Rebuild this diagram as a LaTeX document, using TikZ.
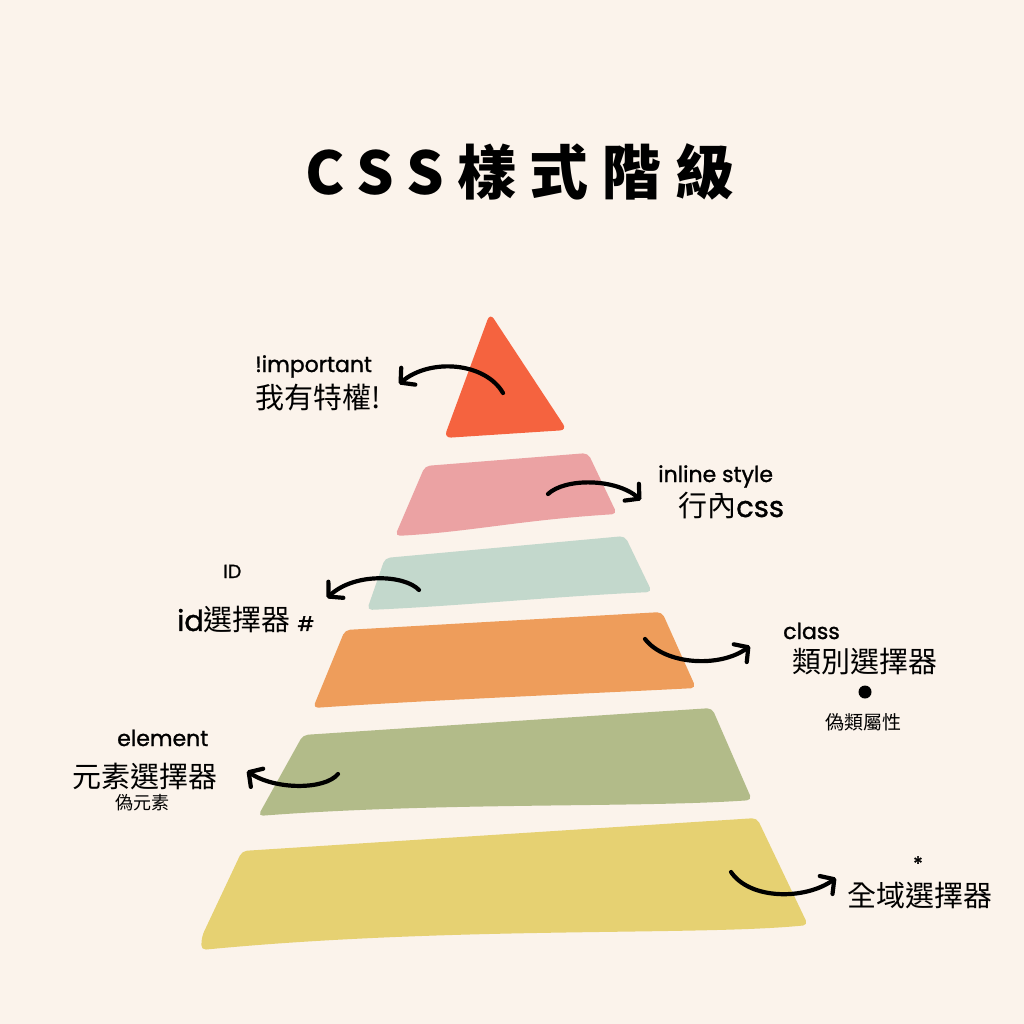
\documentclass[tikz,border=0pt]{standalone}
\usepackage{fontspec}
\usetikzlibrary{arrows.meta}
\newfontfamily\cjk{Noto Sans CJK TC}
\newfontfamily\cjktitle{Noto Sans CJK TC}[LetterSpace=23]
\newfontfamily\hand{Poppins}[FakeBold=1.2]
\definecolor{bgc}{HTML}{FBF3EB}
\definecolor{c1}{HTML}{F5633F}
\definecolor{c2}{HTML}{EBA2A3}
\definecolor{c3}{HTML}{C3D8CC}
\definecolor{c4}{HTML}{EE9D5B}
\definecolor{c5}{HTML}{B2BB89}
\definecolor{c6}{HTML}{E6D172}
\tikzset{
  band/.style={rounded corners=5pt},
  arr/.style={line width=4.2pt, line cap=round, -{Straight Barb[length=10pt,width=22pt,round]}},
  lbl/.style={inner sep=0pt, font=\hand\fontsize{22}{24}\selectfont},
  cj/.style={inner sep=0pt, font=\cjk\fontsize{29}{32}\selectfont},
  cjs/.style={inner sep=0pt, font=\cjk\fontsize{19}{21}\selectfont},
}
\begin{document}
\begin{tikzpicture}[x=1pt,y=-1pt]
\fill[bgc] (0,0) rectangle (1024,1024);
\useasboundingbox (0,0) rectangle (1024,1024);

% title
\node[inner sep=0pt, anchor=west, font=\cjktitle\bfseries\fontsize{59}{62}\selectfont] (title) at (305,172) {CSS樣式階級};

% pyramid
\fill[c1, rounded corners=7pt] (490,313) -- (567,430) -- (444,438) -- cycle;
\fill[c2, band] (425,466) -- (588,453) -- (617,514) .. controls (520,520) and (470,532) .. (395,536) -- cycle;
\fill[c3, band] (385,558) -- (625,536) -- (652,592) .. controls (560,596) and (460,606) .. (367,610) -- cycle;
\fill[c4, band] (345,630) -- (662,612) -- (696,688) .. controls (580,694) and (430,700) .. (313,708) -- cycle;
\fill[c5, band] (303,735) -- (712,708) -- (752,800) .. controls (640,808) and (440,802) .. (258,816) -- cycle;
\fill[c6, band] (242,851) -- (757,818) -- (808,925) .. controls (700,936) and (450,926) .. (201,950) -- (202,936) -- cycle;

% arrows
\coordinate (s1) at (503,393); \coordinate (e1) at (399,384);
\coordinate (s2) at (548,494); \coordinate (e2) at (641,500);
\coordinate (s3) at (419,590); \coordinate (e3) at (327,598);
\coordinate (s4) at (645,639); \coordinate (e4) at (750,646);
\coordinate (s5) at (338,774); \coordinate (e5) at (247,771);
\coordinate (s6) at (731,872); \coordinate (e6) at (836,878);
\draw[arr] (s1) .. controls (485,362) and (430,358) .. (e1);
\draw[arr] (s2) .. controls (565,478) and (615,478) .. (e2);
\draw[arr] (s3) .. controls (405,575) and (355,572) .. (e3);
\draw[arr] (s4) .. controls (665,665) and (720,668) .. (e4);
\draw[arr] (s5) .. controls (325,790) and (275,790) .. (e5);
\draw[arr] (s6) .. controls (750,900) and (805,900) .. (e6);

% labels
\node[lbl, anchor=base west] (l1a) at (255,372) {!important};
\node[cj, anchor=west] (l1b) at (255,398) {我有特權!};
\node[lbl, anchor=base west] (l2a) at (658,482) {inline style};
\node[cj, anchor=west] (l2b) at (678,506) {行內{\hand css}};
\node[lbl, anchor=base west, font=\hand\fontsize{19}{21}\selectfont] (l3a) at (223,578) {ID};
\node[cj, anchor=west] (l3b) at (177,620) {{\hand id}選擇器 {\hand\fontsize{20}{22}\selectfont\#}};
\node[lbl, anchor=base west] (l4a) at (783,639) {class};
\node[cj, anchor=west] (l4b) at (792,662) {類別選擇器};
\fill (865,692) circle (6.5pt);
\node[cjs, anchor=west] (l4c) at (825,722) {偽類屬性};
\node[lbl, anchor=base west] (l5a) at (117,746) {element};
\node[cj, anchor=west] (l5b) at (72,776) {元素選擇器};
\node[cjs, anchor=west, font=\cjk\fontsize{18}{20}\selectfont] (l5c) at (115,803) {偽元素};
\node[lbl, anchor=base, font=\hand\fontsize{20}{22}\selectfont] (l6a) at (918,871) {*};
\node[cj, anchor=west] (l6b) at (847,896) {全域選擇器};
\end{tikzpicture}
\end{document}
